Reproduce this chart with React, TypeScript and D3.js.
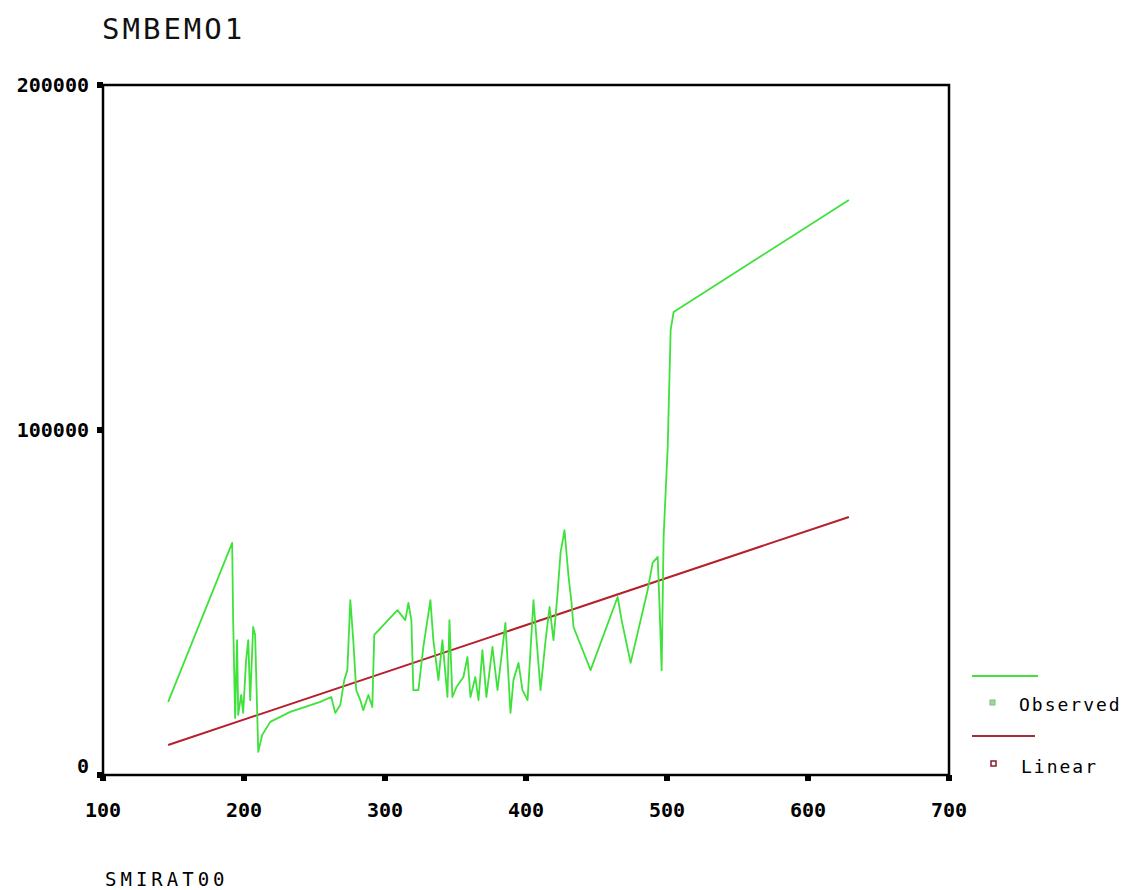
import React from 'react';
import * as d3 from 'd3';

// SMIRAT00 values (x) and SMBEMO1 observed values (y)
const obsX = [
  146.2, 191.6, 192.3, 193.7, 195.1, 195.9, 198.0, 199.4, 201.5, 203.0, 204.4, 206.5, 207.9,
  210.1, 212.9, 218.6, 232.8, 254.1, 261.9, 264.7, 268.3, 271.1, 273.3, 275.4, 277.5, 279.6,
  282.5, 284.6, 288.2, 291.0, 292.4, 308.8, 314.4, 316.6, 318.7, 320.1, 323.7, 327.2, 332.2,
  334.3, 337.9, 340.7, 344.3, 345.7, 347.8, 350.7, 355.6, 358.5, 360.6, 364.1, 366.3, 369.1,
  371.9, 376.2, 379.8, 385.4, 389.0, 391.1, 394.7, 397.5, 401.1, 405.3, 410.3, 413.9, 416.7,
  419.5, 422.4, 424.5, 427.3, 430.2, 432.3, 433.7, 445.8, 465.0, 467.8, 474.2, 486.3, 489.8,
  493.4, 494.8, 496.2, 497.6, 500.5, 502.6, 504.7, 629.0,
];
const obsY = [
  21200, 67300, 44900, 16500, 39100, 17400, 23200, 18000, 33300, 39100, 21700, 42900, 40600,
  6700, 11600, 15400, 18300, 21200, 22600, 18000, 20300, 27500, 30400, 50700, 39100, 24600,
  21700, 18800, 23200, 19700, 40600, 47800, 44900, 49900, 44900, 24600, 24600, 37100, 50700,
  39100, 27500, 39100, 22600, 44900, 22600, 25500, 28400, 34200, 22600, 28400, 21700, 36200,
  22600, 37100, 24600, 44100, 18000, 27500, 32500, 24600, 21700, 50700, 24600, 39100, 48700,
  39100, 52800, 64400, 71000, 57400, 49900, 42900, 30400, 51600, 44900, 32500, 53600, 61500,
  63200, 47800, 30400, 69000, 95100, 129000, 134200, 166700,
];

// linear fit, read at both ends
const linX = [146.2, 629.0];
const linY = [8700, 74800];

const xTicks = [100, 200, 300, 400, 500, 600, 700];
const yTicks = [0, 100000, 200000];

const left = 103;
const right = 949;
const top = 85;
const bottom = 775;

export default function App() {
  const x = d3.scaleLinear().domain([100, 700]).range([left, right]);
  const y = d3.scaleLinear().domain([0, 200000]).range([bottom, top]);

  const line = d3
    .line<number>()
    .x((d) => x(d))
    .y((d, i) => y(obsY[i]));
  const fit = d3
    .line<number>()
    .x((d) => x(d))
    .y((d, i) => y(linY[i]));

  const mono = 'DejaVu Sans Mono, monospace';

  return (
    <svg
      width={1128}
      height={890}
      style={{ position: 'absolute', left: 0, top: 0, background: '#fff' }}
    >
      <text x={102} y={39} fontFamily={mono} fontSize={29} letterSpacing={3} fill="#111">
        SMBEMO1
      </text>

      {/* frame */}
      <rect x={left} y={top} width={right - left} height={bottom - top} fill="none" stroke="#000" strokeWidth={2.5} />

      {/* y axis */}
      {yTicks.map((t) => (
        <g key={t}>
          <rect x={left - 6} y={y(t) - 3} width={6} height={6} fill="#000" />
          <text
            x={89}
            y={y(t) + (t === 0 ? -2 : 7)}
            textAnchor="end"
            fontFamily={mono}
            fontWeight="bold"
            fontSize={20}
            letterSpacing={0}
            fill="#000"
          >
            {t}
          </text>
        </g>
      ))}

      {/* x axis */}
      {xTicks.map((t) => (
        <g key={t}>
          <rect x={x(t) - 3} y={bottom} width={6} height={6} fill="#000" />
          <text
            x={x(t)}
            y={bottom + 42}
            textAnchor="middle"
            fontFamily={mono}
            fontWeight="bold"
            fontSize={20}
            letterSpacing={0}
            fill="#000"
          >
            {t}
          </text>
        </g>
      ))}
      <text x={105} y={886} fontFamily={mono} fontSize={19} letterSpacing={4} fill="#000">
        SMIRAT00
      </text>

      {/* series */}
      <path d={fit(linX) ?? ''} fill="none" stroke="#b5202c" strokeWidth={2} />
      <path d={line(obsX) ?? ''} fill="none" stroke="#3ee23a" strokeWidth={1.8} strokeLinejoin="round" />

      {/* legend */}
      <line x1={972} x2={1038} y1={676} y2={676} stroke="#3ee23a" strokeWidth={2} />
      <rect x={990} y={700} width={5} height={5} fill="#9fd89a" stroke="#7fbf7f" />
      <text x={1019} y={711} fontFamily={mono} fontSize={18} letterSpacing={2} fill="#000">
        Observed
      </text>
      <line x1={972} x2={1035} y1={736} y2={736} stroke="#a52a3c" strokeWidth={2} />
      <rect x={991} y={761} width={5} height={5} fill="#fff" stroke="#8b1a2c" strokeWidth={1.5} />
      <text x={1021} y={773} fontFamily={mono} fontSize={18} letterSpacing={2} fill="#000">
        Linear
      </text>
    </svg>
  );
}
